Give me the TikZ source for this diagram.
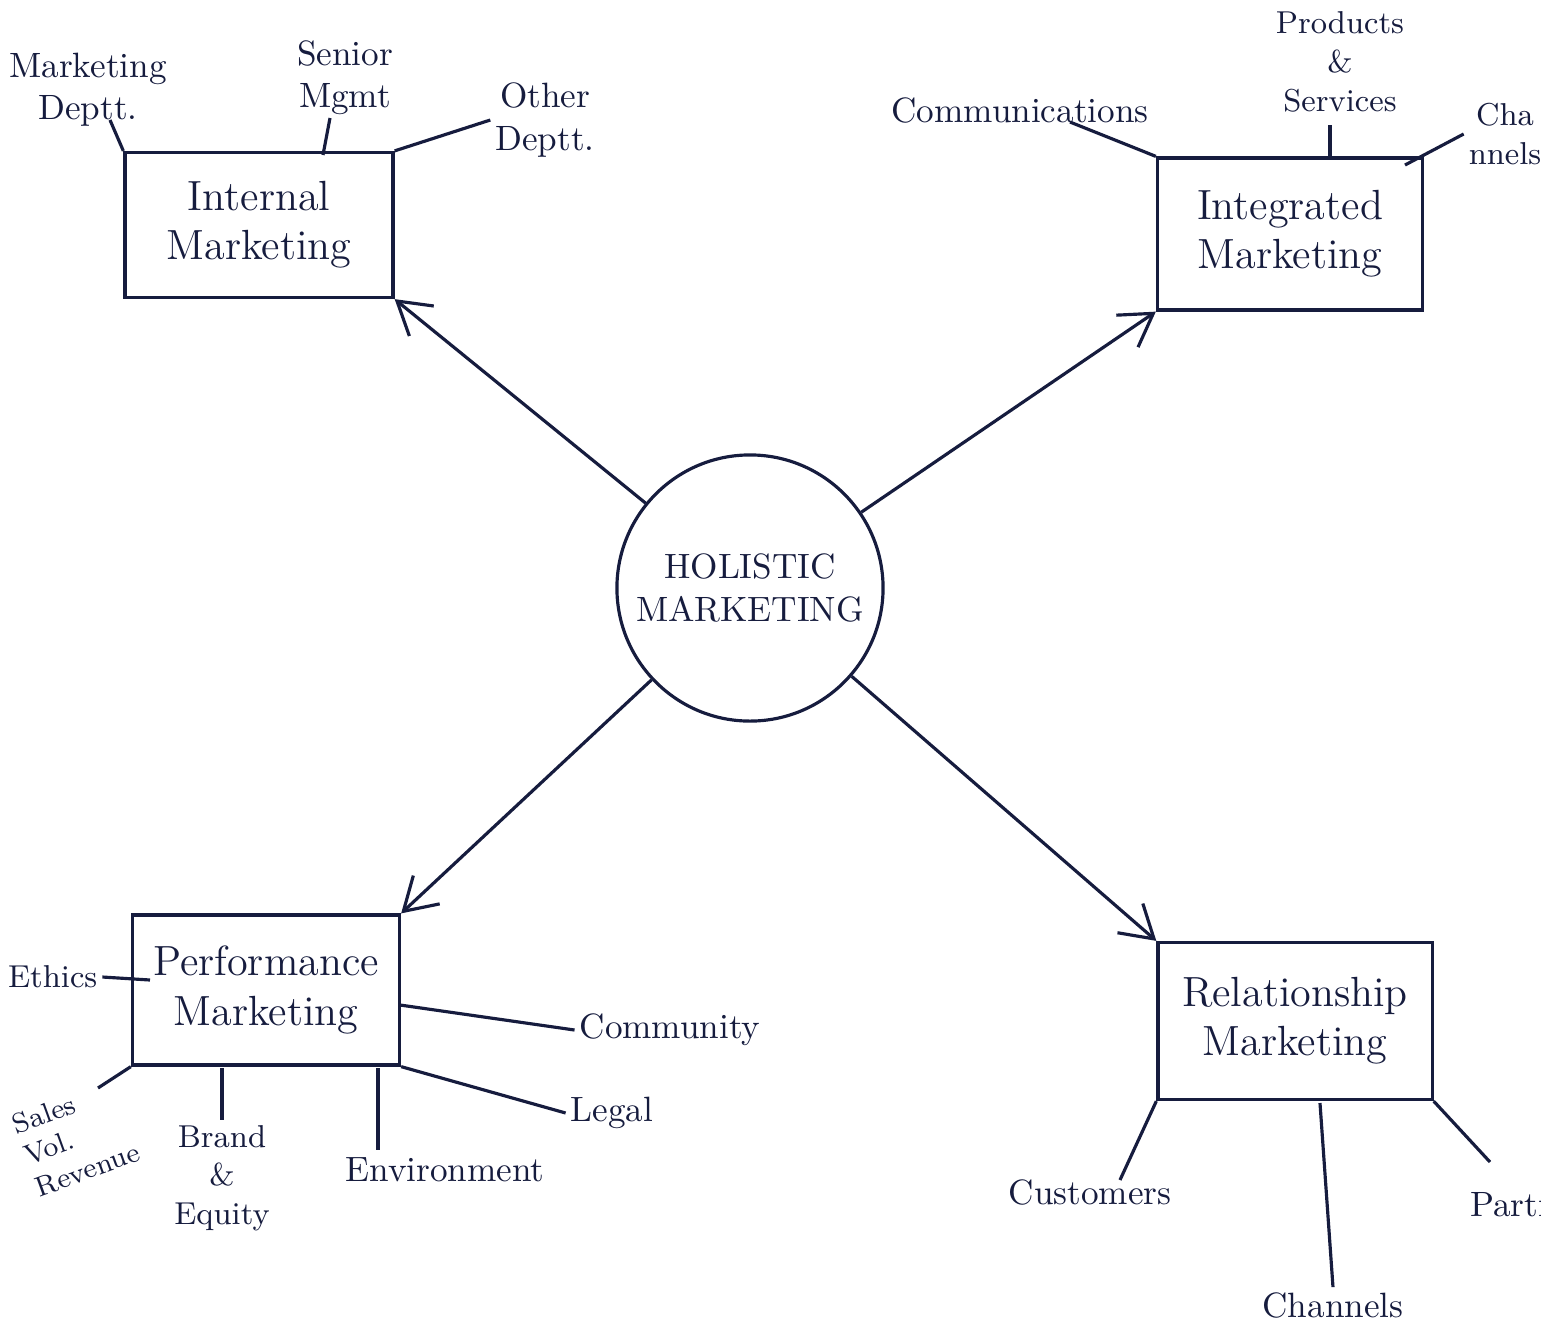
\documentclass[tikz,border=0pt]{standalone}
\usepackage{tikz}
\usetikzlibrary{arrows.meta}
\definecolor{ink}{RGB}{22,28,62}

\begin{document}
\begin{tikzpicture}[x=0.01cm, y=-0.01cm, ink, line width=0.9pt,
    box/.style={draw, minimum width=#1, minimum height=1.45cm, align=center, font=\large},
    leaf/.style={align=center, font=\normalsize, inner sep=1pt},
    link/.style={draw, line width=0.9pt},
    spoke/.style={draw, line width=0.9pt, -{Straight Barb[length=9pt,width=11pt]}}]
        \useasboundingbox (0,0) rectangle (1541,1338);
        % Draw central circle
        \node[draw, circle, inner sep=0pt, minimum size=2.66cm, align=center, font=\normalsize] (hm) at (750,588) {HOLISTIC\\MARKETING};
        % Draw the four marketing boxes
        \node[box=2.68cm] (im) at (259,225) {Internal\\Marketing};
        \node[box=2.65cm, minimum height=1.52cm] (ig) at (1290,234) {Integrated\\Marketing};
        \node[box=2.67cm, minimum height=1.5cm] (pm) at (266,990) {Performance\\Marketing};
        \node[box=2.74cm, minimum height=1.57cm] (rm) at (1295,1021) {Relationship\\Marketing};
        % Draw arrows from the centre to each box
        \draw[spoke] (hm) -- (im.south east);
        \draw[spoke] (hm) -- (ig.south west);
        \draw[spoke] (hm) -- (pm.north east);
        \draw[spoke] (hm) -- (rm.north west);
        % Internal marketing parts
        \node[leaf] (md) at (88,90) {Marketing\\Deptt.};
        \node[leaf] (sm) at (345,78) {Senior\\Mgmt};
        \node[leaf] (od) at (545,120) {Other\\Deptt.};
        \draw[link] (110,120) -- (im.north west);
        \draw[link] (330,118) -- (323,155);
        \draw[link] (od.west) -- (im.north east);
        % Integrated marketing parts
        \node[leaf] (cm) at (1020,110) {Communications};
        \node[leaf, font=\small] (ps) at (1340,62) {Products\\\&\\Services};
        \node[leaf, font=\small] (ch) at (1505,134) {Cha\\nnels};
        \draw[link] (1070,122) -- (ig.north west);
        \draw[link] (1330,125) -- (1330,158);
        \draw[link] (ch.west) -- (1405,165);
        % Performance marketing parts
        \node[leaf, anchor=west, font=\small] (et) at (3,977) {Ethics};
        \node[leaf, rotate=20, font=\footnotesize, align=left] (sv) at (76,1138) {Sales\\Vol.\\Revenue};
        \node[leaf, font=\small] (be) at (222,1178) {Brand\\\&\\Equity};
        \node[leaf] (en) at (445,1170) {Environment};
        \node[leaf] (co) at (670,1030) {Community};
        \node[leaf] (lg) at (612,1113) {Legal};
        \draw[link] (et.east) -- (150,980);
        \draw[link] (98,1088) -- (pm.south west);
        \draw[link] (222,1068) -- (be.north);
        \draw[link] (378,1068) -- (378,1150);
        \draw[link] (400,1005) -- (co.west);
        \draw[link] (pm.south east) -- (lg.west);
        % Relationship marketing parts
        \node[leaf] (cu) at (1090,1192) {Customers};
        \node[leaf] (cn) at (1333,1305) {Channels};
        \node[leaf, anchor=west] (pa) at (1465,1205) {Partners};
        \draw[link] (rm.south west) -- (1120,1180);
        \draw[link] (1320,1103) -- (cn.north);
        \draw[link] (rm.south east) -- (1490,1162);
    \end{tikzpicture}
\end{document}
